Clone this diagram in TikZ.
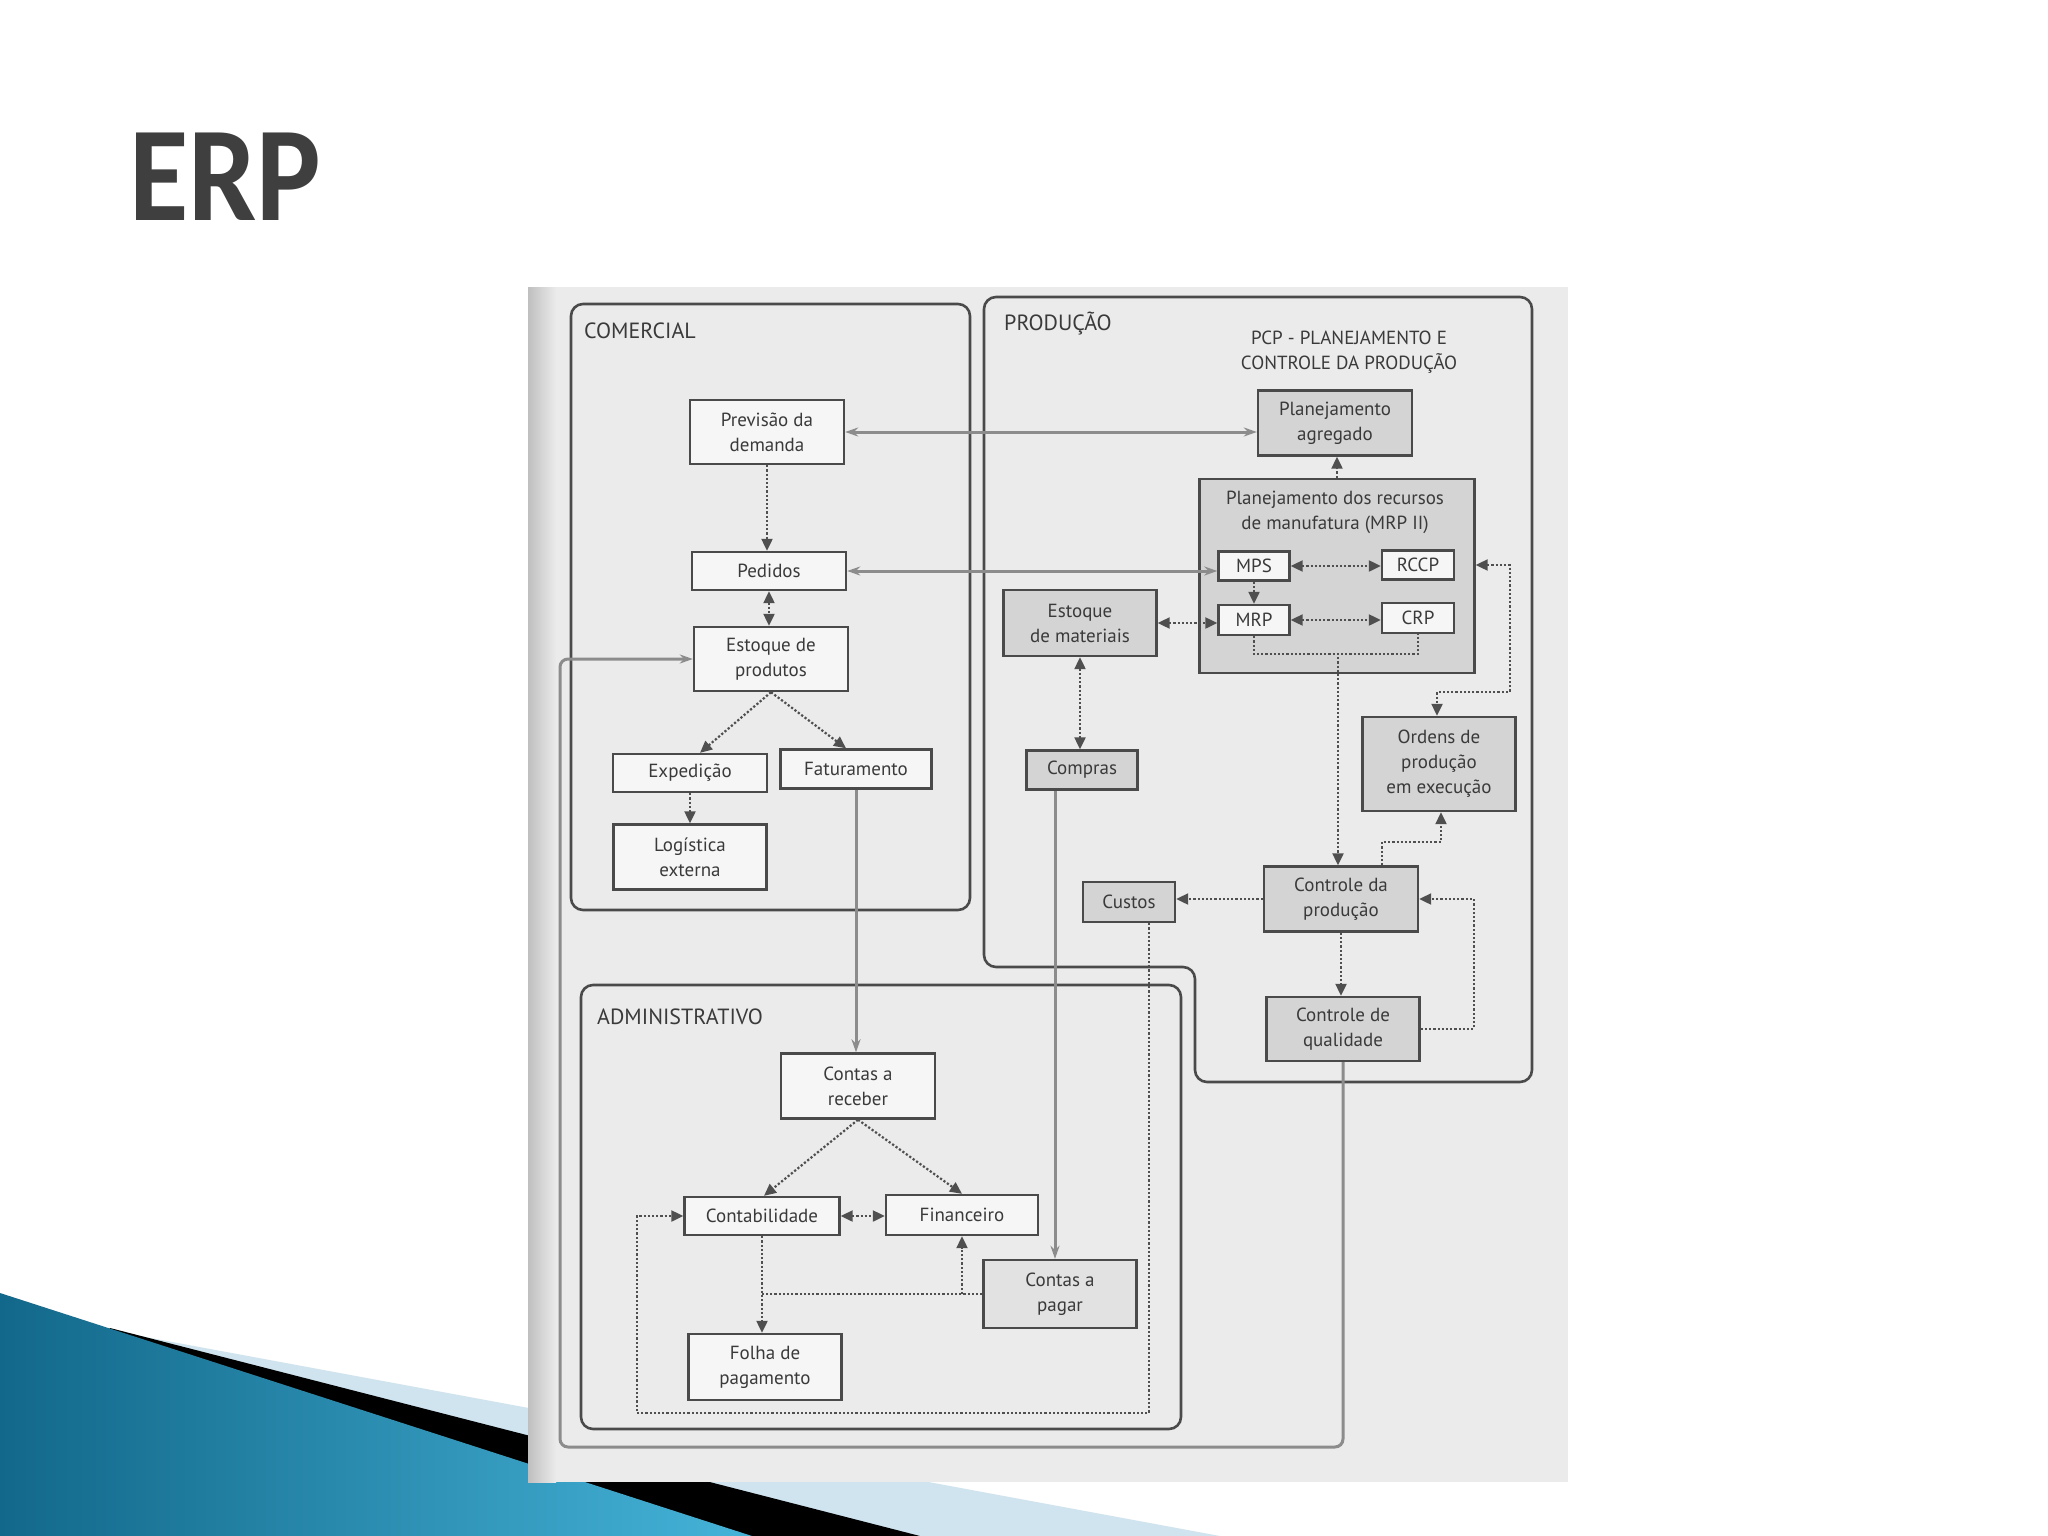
\documentclass[tikz,border=0pt]{standalone}
\usepackage{fontspec}
\setmainfont{PT Sans}
\newfontfamily\titlefont{Carlito}
\usetikzlibrary{arrows.meta,calc}
\definecolor{boxc}{HTML}{4A4A4A}
\definecolor{txtc}{HTML}{3A3A3A}
\definecolor{solc}{HTML}{8C8C8C}
\definecolor{dotc}{HTML}{4F4F4F}
\definecolor{gfill}{HTML}{D4D4D4}
\definecolor{lgfill}{HTML}{E2E2E2}
\definecolor{boxw}{HTML}{F6F6F6}
\definecolor{paper}{HTML}{EBEBEB}
\definecolor{titlec}{HTML}{3F3F3F}
\definecolor{bluedark}{HTML}{12688A}
\definecolor{bluelight}{HTML}{45B3D8}
\definecolor{paleblue}{HTML}{CFE4EE}
\begin{document}
\begin{tikzpicture}[x=1pt,y=-1pt,
  box/.style={draw=boxc,line width=2.4pt,fill=boxw,text=txtc,align=center,inner sep=0pt,font=\fontsize{19}{25}\selectfont},
  gbox/.style={box,fill=gfill},
  lbox/.style={box,fill=lgfill},
  dotl/.style={draw=dotc,line width=2.2pt,dash pattern=on 2.2pt off 2pt,>={Triangle[length=12pt,width=11pt]}},
  soll/.style={draw=solc,line width=3pt,>={Stealth[length=13pt,width=9pt]}},
  sect/.style={draw=boxc,line width=2.6pt,rounded corners=12pt},
  head/.style={text=txtc,font=\fontsize{22}{26}\selectfont,inner sep=0pt},
  plain/.style={text=txtc,font=\fontsize{19}{25}\selectfont,inner sep=0pt,align=center}]
\useasboundingbox (0,0) rectangle (2048,1536);
\fill[white] (0,0) rectangle (2048,1536);

% bottom-left decoration
\fill[paleblue] (140,1336) -- (1220,1536) -- (0,1536) -- cycle;
\fill[black] (110,1328) -- (920,1536) -- (0,1536) -- cycle;
\shade[shading angle=60,left color=bluedark,right color=bluelight] (0,1293) -- (752,1536) -- (0,1536) -- cycle;

% title
\node[anchor=base west,inner sep=0pt,text=titlec] (erp) at (129,220) {\scalebox{0.9}[1]{\titlefont\bfseries\fontsize{135}{135}\selectfont ERP}};

% photo paper
\fill[paper] (528,287) rectangle (1568,1482);
\shade[left color=gray!50,right color=paper] (528,287) rectangle (556,1482);

% sections
\draw[sect] (571,304) rectangle (970,910);
\draw[sect] (984,297) -- (1532,297) -- (1532,1082) -- (1195,1082) -- (1195,967) -- (984,967) -- cycle;
\draw[sect] (581,985) rectangle (1181,1429);
\node[head,anchor=west] (hcom) at (584,331) {COMERCIAL};
\node[head,anchor=west] (hprod) at (1004,324) {PRODUÇÃO};
\node[head,align=center,font=\fontsize{19}{25}\selectfont] (hpcp) at (1349,352) {PCP - PLANEJAMENTO E\\CONTROLE DA PRODUÇÃO};
\node[head,anchor=west] (hadm) at (597,1017) {ADMINISTRATIVO};

% comercial nodes
\node[box,minimum width=154pt,minimum height=64pt] (prev) at (767,432) {Previsão da\\demanda};
\node[box,minimum width=154pt,minimum height=38pt] (ped) at (769,571) {Pedidos};
\node[box,minimum width=154pt,minimum height=64pt] (estp) at (771,659) {Estoque de\\produtos};
\node[box,minimum width=154pt,minimum height=38pt] (exped) at (690,773) {Expedição};
\node[box,minimum width=151pt,minimum height=39pt] (fat) at (856,769) {Faturamento};
\node[box,minimum width=153pt,minimum height=65pt] (log) at (690,857) {Logística\\externa};

% producao nodes
\node[gbox,minimum width=154pt,minimum height=65pt] (pagr) at (1335,423) {Planejamento\\agregado};
\node[gbox,minimum width=275pt,minimum height=194pt] (mrp2) at (1337,576) {};
\node[plain] (mrp2t) at (1335,512) {Planejamento dos recursos\\de manufatura (MRP II)};
\node[box,minimum width=71pt,minimum height=29pt] (mps) at (1254,566) {MPS};
\node[box,minimum width=72pt,minimum height=29pt] (rccp) at (1418,565) {RCCP};
\node[box,minimum width=71pt,minimum height=30pt] (mrp) at (1254,620) {MRP};
\node[box,minimum width=72pt,minimum height=30pt] (crp) at (1418,618) {CRP};
\node[gbox,minimum width=153pt,minimum height=66pt] (estm) at (1080,623) {Estoque\\de materiais};
\node[gbox,minimum width=111pt,minimum height=39pt] (compras) at (1082,770) {Compras};
\node[gbox,minimum width=153pt,minimum height=94pt] (ordens) at (1439,764) {Ordens de\\produção\\em execução};
\node[gbox,minimum width=92pt,minimum height=40pt] (custos) at (1129,902) {Custos};
\node[gbox,minimum width=154pt,minimum height=65pt] (cprod) at (1341,899) {Controle da\\produção};
\node[gbox,minimum width=153pt,minimum height=64pt] (cqual) at (1343,1029) {Controle de\\qualidade};

% administrativo nodes
\node[box,minimum width=154pt,minimum height=65pt] (crec) at (858,1086) {Contas a\\receber};
\node[box,minimum width=155pt,minimum height=38pt] (contab) at (762,1216) {Contabilidade};
\node[box,minimum width=152pt,minimum height=40pt] (fin) at (962,1215) {Financeiro};
\node[lbox,minimum width=153pt,minimum height=68pt] (cpag) at (1060,1294) {Contas a\\pagar};
\node[box,minimum width=153pt,minimum height=66pt] (folha) at (765,1367) {Folha de\\pagamento};

% helper coordinates
\coordinate (brk) at (1338,653);
\coordinate (ordin) at (1437,692);
\coordinate (ordout) at (1441,842);
\coordinate (loopc) at (560,1447);
\coordinate (custc) at (637,1413);
\coordinate (compb) at ($(compras.south)+(-27,0)$);
\coordinate (custb) at ($(custos.south)+(20,0)$);
\coordinate (cprodt) at ($(cprod.north)+(41,0)$);

% solid connectors
\draw[soll,<->] (prev.east) -- (prev.east -| pagr.west);
\draw[soll,<->] (ped.east) -- (ped.east -| mps.west);
\draw[soll,->] (fat.south) -- (fat.south |- crec.north);
\draw[soll,->] (compb) -- (compb |- cpag.north);
\draw[soll,->,rounded corners=8pt] (cqual.south) |- (loopc) |- (estp.west);

% dotted connectors: comercial
\draw[dotl,->] (prev.south) -- (prev.south |- ped.north);
\draw[dotl,<->] (ped.south) -- (ped.south |- estp.north);
\draw[dotl,->] (estp.south) -- ($(exped.north)+(10,0)$);
\draw[dotl,->] (estp.south) -- ($(fat.north)+(-10,0)$);
\draw[dotl,->] (exped.south) -- (exped.south |- log.north);

% dotted connectors: producao
\draw[dotl,->] (mrp2.north) -- (mrp2.north |- pagr.south);
\draw[dotl,<->] (mps.east) -- (mps.east -| rccp.west);
\draw[dotl,->] (mps.south) -- (mps.south |- mrp.north);
\draw[dotl,<->] (mrp.east) -- (mrp.east -| crp.west);
\draw[dotl,<->] (estm.east) -- (estm.east -| mrp.west);
\draw[dotl] (mrp.south) -- ++(0,18) -| (crp.south);
\draw[dotl,->] (brk) -- (brk |- cprod.north);
\draw[dotl,<->] (estm.south) -- (estm.south |- compras.north);
\draw[dotl,<->] (mrp2.east |- rccp.east) -- ++(34,0) |- (ordin) -- (ordin |- ordens.north);
\draw[dotl,->] (cprodt) |- (ordout) -- (ordout |- ordens.south);
\draw[dotl,->] (cprod.west) -- (cprod.west -| custos.east);
\draw[dotl,->] (cprod.south) -- (cprod.south |- cqual.north);
\draw[dotl,->] (cqual.east) -- ++(53,0) |- (cprod.east);
\draw[dotl,->] (custb) |- (custc) |- (contab.west);

% dotted connectors: administrativo
\draw[dotl,->] (crec.south) -- ($(contab.north)+(2,0)$);
\draw[dotl,->] (crec.south) -- (fin.north);
\draw[dotl,<->] (contab.east) -- (contab.east -| fin.west);
\draw[dotl,->] (contab.south) -- (contab.south |- folha.north);
\draw[dotl] (cpag.west) -- (cpag.west -| contab.south);
\draw[dotl,->] (cpag.west -| fin.south) -- (fin.south);
\end{tikzpicture}
\end{document}
